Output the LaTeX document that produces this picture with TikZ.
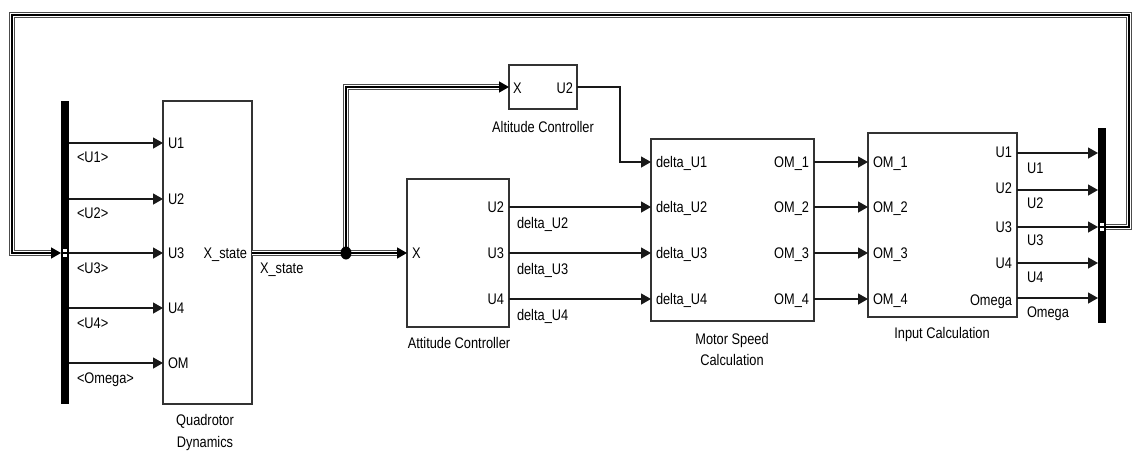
\documentclass[tikz,border=0pt]{standalone}
\usepackage{fontspec}
\setmainfont{Liberation Sans}
\usepackage{graphicx}
\usetikzlibrary{arrows.meta,calc}
\newcommand{\lf}{\fontsize{12.8}{15}\selectfont}
\newcommand{\T}[1]{\scalebox{1}[1.2]{#1}}
\newcommand{\busplain}[1]{\draw[busO] #1; \draw[busW] #1; \draw[busC] #1;}
\newcommand{\busarrow}[1]{\draw[busO,shorten >=8pt] #1; \draw[busW,shorten >=8pt] #1; \draw[busC,arr] #1;}
\begin{document}
\begin{tikzpicture}[x=1pt,y=-1pt,
  blk/.style={draw=black!80, line width=1.2pt, fill=white, inner sep=0pt, outer sep=0pt},
  bar/.style={fill=black, draw=none, inner sep=0pt, outer sep=0pt},
  txt/.style={font=\lf, inner sep=0pt, outer sep=0pt, text=black},
  arr/.style={-{Triangle[length=10pt,width=11pt]}},
  sig/.style={draw=black!90, line width=1.3pt, arr},
  busO/.style={draw=black!70, line width=6.4pt, line join=miter},
  busW/.style={draw=white, line width=3.6pt, line join=miter},
  busC/.style={draw=black, line width=1.4pt, line join=miter},
  portmark/.style={draw=black, fill=white, line width=0.5pt}
]
\useasboundingbox (0,0) rectangle (1133,451);

% ---- blocks
\node[bar, minimum width=8pt, minimum height=303pt] (demux) at (65,252.5) {};
\node[blk, minimum width=89pt, minimum height=303pt] (qd) at (207.5,252.5) {};
\node[blk, minimum width=68pt, minimum height=44pt] (alt) at (543,87) {};
\node[blk, minimum width=102pt, minimum height=148pt] (att) at (458,253) {};
\node[blk, minimum width=163pt, minimum height=182pt] (msc) at (732.5,230) {};
\node[blk, minimum width=149pt, minimum height=184pt] (ic) at (942.5,225) {};
\node[bar, minimum width=8pt, minimum height=195pt] (mux) at (1102,225.5) {};

% ---- port coordinates
\coordinate (qdu1) at (163,143);
\coordinate (qdu2) at (163,199);
\coordinate (qdu3) at (163,253);
\coordinate (qdu4) at (163,308);
\coordinate (qdom) at (163,363);
\coordinate (qdx) at (252,253);
\coordinate (j) at (346,253);
\coordinate (altx) at (509,87);
\coordinate (altu) at (577,87);
\coordinate (altbend) at (620,87);
\coordinate (attx) at (407,253);
\coordinate (attu2) at (509,207);
\coordinate (attu3) at (509,253);
\coordinate (attu4) at (509,299);
\coordinate (mscd1) at (651,162);
\coordinate (mscd2) at (651,207);
\coordinate (mscd3) at (651,253);
\coordinate (mscd4) at (651,299);
\coordinate (mso1) at (814,162);
\coordinate (mso2) at (814,207);
\coordinate (mso3) at (814,253);
\coordinate (mso4) at (814,299);
\coordinate (ici1) at (868,162);
\coordinate (ici2) at (868,207);
\coordinate (ici3) at (868,253);
\coordinate (ici4) at (868,299);
\coordinate (icu1) at (1017,153);
\coordinate (icu2) at (1017,190);
\coordinate (icu3) at (1017,227);
\coordinate (icu4) at (1017,263);
\coordinate (icom) at (1017,298);
\coordinate (fbTR) at (1129,15);
\coordinate (fbTL) at (12,15);

% ---- signal lines
\draw[sig] (demux.east |- qdu1) -- (qdu1);
\draw[sig] (demux.east |- qdu2) -- (qdu2);
\draw[sig] (demux.east |- qdu3) -- (qdu3);
\draw[sig] (demux.east |- qdu4) -- (qdu4);
\draw[sig] (demux.east |- qdom) -- (qdom);

\draw[sig] (altu) -- (altbend) |- (mscd1);
\draw[sig] (attu2) -- (mscd2);
\draw[sig] (attu3) -- (mscd3);
\draw[sig] (attu4) -- (mscd4);

\draw[sig] (mso1) -- (ici1);
\draw[sig] (mso2) -- (ici2);
\draw[sig] (mso3) -- (ici3);
\draw[sig] (mso4) -- (ici4);

\draw[sig] (icu1) -- (mux.west |- icu1);
\draw[sig] (icu2) -- (mux.west |- icu2);
\draw[sig] (icu3) -- (mux.west |- icu3);
\draw[sig] (icu4) -- (mux.west |- icu4);
\draw[sig] (icom) -- (mux.west |- icom);

% ---- bus lines
\busplain{(qdx) -- (j)}
\busarrow{(j) -- (attx)}
\busarrow{(j) |- (altx)}
\busarrow{(mux.east |- icu3) -| (fbTR) -- (fbTL) |- (demux.west |- qdu3)}
\fill[black] (j) ellipse (5.5pt and 6.5pt);

% ---- bus port markers
\draw[portmark] (62.5,248.5) rectangle (67.5,252.6);
\draw[portmark] (62.5,253.4) rectangle (67.5,257.5);
\draw[portmark] (1099.5,222.5) rectangle (1104.5,226.6);
\draw[portmark] (1099.5,227.4) rectangle (1104.5,231.5);

% ---- labels: demux outputs
\node[txt, anchor=base west] (l1) at (77,162) {\T{<U1>}};
\node[txt, anchor=base west] (l2) at (77,218) {\T{<U2>}};
\node[txt, anchor=base west] (l3) at (77,273) {\T{<U3>}};
\node[txt, anchor=base west] (l4) at (77,328) {\T{<U4>}};
\node[txt, anchor=base west] (l5) at (77,383) {\T{<Omega>}};

% ---- quadrotor dynamics
\node[txt, anchor=base west] (qt1) at (168,148) {\T{U1}};
\node[txt, anchor=base west] (qt2) at (168,204) {\T{U2}};
\node[txt, anchor=base west] (qt3) at (168,258) {\T{U3}};
\node[txt, anchor=base west] (qt4) at (168,313) {\T{U4}};
\node[txt, anchor=base west] (qt5) at (168,368) {\T{OM}};
\node[txt, anchor=base east] (qtx) at (247,258) {\T{X\_state}};
\node[txt, anchor=base] (qn1) at (205,425) {\T{Quadrotor}};
\node[txt, anchor=base] (qn2) at (205,447) {\T{Dynamics}};
\node[txt, anchor=base west] (xs) at (260,273) {\T{X\_state}};

% ---- altitude controller
\node[txt, anchor=base west] (at1) at (513,93) {\T{X}};
\node[txt, anchor=base east] (at2) at (573,93) {\T{U2}};
\node[txt, anchor=base] (atn) at (543,132) {\T{Altitude Controller}};

% ---- attitude controller
\node[txt, anchor=base west] (tt1) at (412,258) {\T{X}};
\node[txt, anchor=base east] (tt2) at (504,212) {\T{U2}};
\node[txt, anchor=base east] (tt3) at (504,258) {\T{U3}};
\node[txt, anchor=base east] (tt4) at (504,304) {\T{U4}};
\node[txt, anchor=base] (ttn) at (459,348) {\T{Attitude Controller}};
\node[txt, anchor=base west] (d2) at (517,228) {\T{delta\_U2}};
\node[txt, anchor=base west] (d3) at (517,274) {\T{delta\_U3}};
\node[txt, anchor=base west] (d4) at (517,320) {\T{delta\_U4}};

% ---- motor speed calculation
\node[txt, anchor=base west] (m1) at (656,167) {\T{delta\_U1}};
\node[txt, anchor=base west] (m2) at (656,212) {\T{delta\_U2}};
\node[txt, anchor=base west] (m3) at (656,258) {\T{delta\_U3}};
\node[txt, anchor=base west] (m4) at (656,304) {\T{delta\_U4}};
\node[txt, anchor=base east] (o1) at (809,167) {\T{OM\_1}};
\node[txt, anchor=base east] (o2) at (809,212) {\T{OM\_2}};
\node[txt, anchor=base east] (o3) at (809,258) {\T{OM\_3}};
\node[txt, anchor=base east] (o4) at (809,304) {\T{OM\_4}};
\node[txt, anchor=base] (mn1) at (732,344) {\T{Motor Speed}};
\node[txt, anchor=base] (mn2) at (732,365) {\T{Calculation}};

% ---- input calculation
\node[txt, anchor=base west] (i1) at (873,167) {\T{OM\_1}};
\node[txt, anchor=base west] (i2) at (873,212) {\T{OM\_2}};
\node[txt, anchor=base west] (i3) at (873,258) {\T{OM\_3}};
\node[txt, anchor=base west] (i4) at (873,304) {\T{OM\_4}};
\node[txt, anchor=base east] (r1) at (1012,157) {\T{U1}};
\node[txt, anchor=base east] (r2) at (1012,193) {\T{U2}};
\node[txt, anchor=base east] (r3) at (1012,232) {\T{U3}};
\node[txt, anchor=base east] (r4) at (1012,268) {\T{U4}};
\node[txt, anchor=base east] (r5) at (1012,305) {\T{Omega}};
\node[txt, anchor=base] (icn) at (942,338) {\T{Input Calculation}};
\node[txt, anchor=base west] (s1) at (1027,173) {\T{U1}};
\node[txt, anchor=base west] (s2) at (1027,208) {\T{U2}};
\node[txt, anchor=base west] (s3) at (1027,245) {\T{U3}};
\node[txt, anchor=base west] (s4) at (1027,282) {\T{U4}};
\node[txt, anchor=base west] (s5) at (1027,317) {\T{Omega}};
\end{tikzpicture}
\end{document}
